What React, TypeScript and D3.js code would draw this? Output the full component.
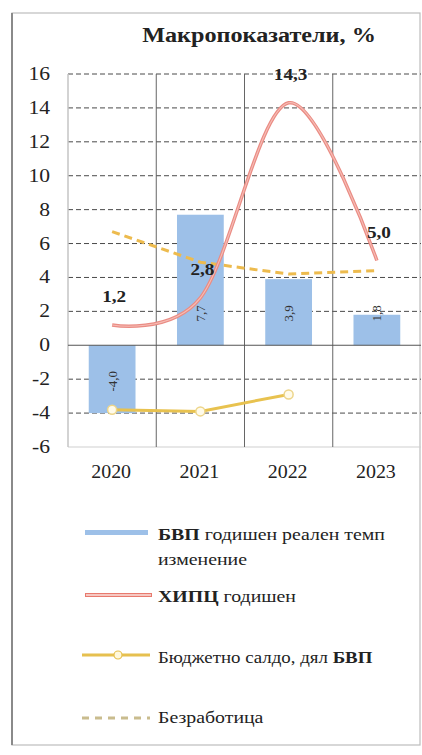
import React from 'react';
import * as d3 from 'd3';

// Macro indicators for 2020–2023, in percent
const YEARS = ['2020', '2021', '2022', '2023'];
const GDP_GROWTH = [-4.0, 7.7, 3.9, 1.8];
const HICP = [1.2, 2.8, 14.3, 5.0];
const BUDGET_BALANCE = [-3.8, -3.9, -2.9]; // 2020–2022 only
const UNEMPLOYMENT = [6.7, 4.9, 4.2, 4.4];
const Y_TICKS = d3.range(-6, 17, 2);

const TITLE = 'Макропоказатели, %';

const W = 422;
const H = 755;
const FONT = "'Liberation Serif', 'DejaVu Serif', serif";

const fmt = (v: number) => v.toFixed(1).replace('.', ',');

// Text drawn slightly widened horizontally around its anchor
function SText({ x, y, sx = 1.15, anchor = 'start', size, weight = 'normal', fill = '#222', children }: any) {
  return (
    <text
      transform={`translate(${x},${y}) scale(${sx},1)`}
      textAnchor={anchor}
      fill={fill}
      style={{ fontFamily: FONT, fontSize: size, fontWeight: weight }}
    >
      {children}
    </text>
  );
}

export default function App() {
  const x = d3.scaleBand<string>().domain(YEARS).range([68, 421]).padding(0);
  const y = d3.scaleLinear().domain([-6, 16]).range([447, 74]);
  const bw = x.bandwidth();
  const cx = (i: number) => (x(YEARS[i]) as number) + bw / 2;
  const barW = bw * 0.53;

  const smooth = d3
    .line<number>()
    .x((_, i) => cx(i))
    .y((d) => y(d))
    .curve(d3.curveCatmullRom.alpha(0));
  const straight = d3
    .line<number>()
    .x((_, i) => cx(i))
    .y((d) => y(d));

  const x0 = x.range()[0];
  const x1 = x.range()[1];

  return (
    <svg
      width={W}
      height={H}
      style={{ position: 'absolute', left: 0, top: 0, background: '#fff', fontFamily: FONT }}
    >
      {/* frame */}
      <rect x={12} y={13} width={408} height={732} fill="#fff" stroke="#bdbdbd" strokeWidth={1.2} />
      <line x1={12} x2={12} y1={13} y2={745} stroke="#8a8a8a" strokeWidth={2} />

      {/* title */}
      <SText x={259} y={42} anchor="middle" size={22} weight="bold" sx={1.1}>
        {TITLE}
      </SText>

      {/* horizontal gridlines */}
      {Y_TICKS.filter((t) => t !== 0 && t !== -6).map((t) => (
        <line
          key={t}
          x1={x0}
          x2={x1}
          y1={y(t)}
          y2={y(t)}
          stroke="#4a4a4a"
          strokeWidth={1}
          strokeDasharray="5,3"
        />
      ))}
      <line x1={x0} x2={x1} y1={y(-6)} y2={y(-6)} stroke="#cfcfcf" strokeWidth={1} />

      {/* vertical category separators */}
      <line x1={x0} x2={x0} y1={y(16)} y2={y(-6)} stroke="#c4c4c4" strokeWidth={1.5} />
      {YEARS.slice(1).map((yr) => (
        <line
          key={yr}
          x1={x(yr) as number}
          x2={x(yr) as number}
          y1={y(16)}
          y2={y(-6)}
          stroke="#666"
          strokeWidth={1}
        />
      ))}

      {/* y tick labels */}
      {Y_TICKS.map((t) => (
        <SText key={t} x={50} y={y(t) + 6} anchor="end" size={18} sx={1.2}>
          {t}
        </SText>
      ))}

      {/* GDP bars */}
      {GDP_GROWTH.map((v, i) => (
        <rect
          key={YEARS[i]}
          x={cx(i) - barW / 2}
          y={y(Math.max(0, v))}
          width={barW}
          height={Math.abs(y(v) - y(0))}
          fill="#9DC0E8"
        />
      ))}

      {/* zero line */}
      <line x1={x0} x2={x1} y1={y(0)} y2={y(0)} stroke="#555" strokeWidth={1.2} />

      {/* GDP labels, rotated inside the bars near the base */}
      {GDP_GROWTH.map((v, i) => (
        <text
          key={YEARS[i]}
          transform={`translate(${cx(i)},${v >= 0 ? y(0) - 32 : y(0) + 36}) rotate(-90)`}
          textAnchor="middle"
          dominantBaseline="central"
          fill="#333"
          style={{ fontFamily: FONT, fontSize: 13 }}
        >
          {fmt(v)}
        </text>
      ))}

      {/* unemployment */}
      <path
        d={straight(UNEMPLOYMENT) || ''}
        fill="none"
        stroke="#EDBB4E"
        strokeWidth={3}
        strokeDasharray="8,5"
      />

      {/* budget balance */}
      <path d={straight(BUDGET_BALANCE) || ''} fill="none" stroke="#E8C24F" strokeWidth={3} />
      {BUDGET_BALANCE.map((v, i) => (
        <circle key={i} cx={cx(i)} cy={y(v)} r={4.5} fill="#FFFBEA" stroke="#EDD58A" strokeWidth={1.5} />
      ))}

      {/* HICP */}
      <path d={smooth(HICP) || ''} fill="none" stroke="#EA8C84" strokeWidth={3.5} />
      <path d={smooth(HICP) || ''} fill="none" stroke="#F6BDB6" strokeWidth={1.1} />
      {HICP.map((v, i) => (
        <SText key={i} x={cx(i) + 2} y={y(v) - 23} anchor="middle" size={16} weight="bold" sx={1.2}>
          {fmt(v)}
        </SText>
      ))}

      {/* x labels */}
      {YEARS.map((yr, i) => (
        <SText key={yr} x={cx(i) - 1} y={478} anchor="middle" size={19} sx={1.05}>
          {yr}
        </SText>
      ))}

      {/* legend */}
      <rect x={85} y={530} width={63} height={5} fill="#9DC0E8" />
      <SText x={158} y={540} size={16} sx={1.24}>
        <tspan fontWeight="bold">БВП</tspan> годишен реален темп
      </SText>
      <SText x={158} y={565} size={16} sx={1.24}>
        изменение
      </SText>

      <line x1={85} x2={152} y1={595} y2={595} stroke="#E87A6E" strokeWidth={4} />
      <line x1={86} x2={151} y1={595} y2={595} stroke="#FBE3DF" strokeWidth={1.5} />
      <SText x={158} y={602} size={16} sx={1.24}>
        <tspan fontWeight="bold">ХИПЦ</tspan> годишен
      </SText>

      <line x1={82} x2={150} y1={655} y2={655} stroke="#E6C04F" strokeWidth={3} />
      <circle cx={118} cy={655} r={4} fill="#FFF8DC" stroke="#E6C04F" strokeWidth={1.2} />
      <SText x={158} y={663} size={16} sx={1.18}>
        Бюджетно салдо, дял <tspan fontWeight="bold">БВП</tspan>
      </SText>

      <line
        x1={82}
        x2={150}
        y1={718}
        y2={718}
        stroke="#C9BC8E"
        strokeWidth={3}
        strokeDasharray="7,6"
      />
      <SText x={158} y={723} size={16} sx={1.24}>
        Безработица
      </SText>
    </svg>
  );
}
